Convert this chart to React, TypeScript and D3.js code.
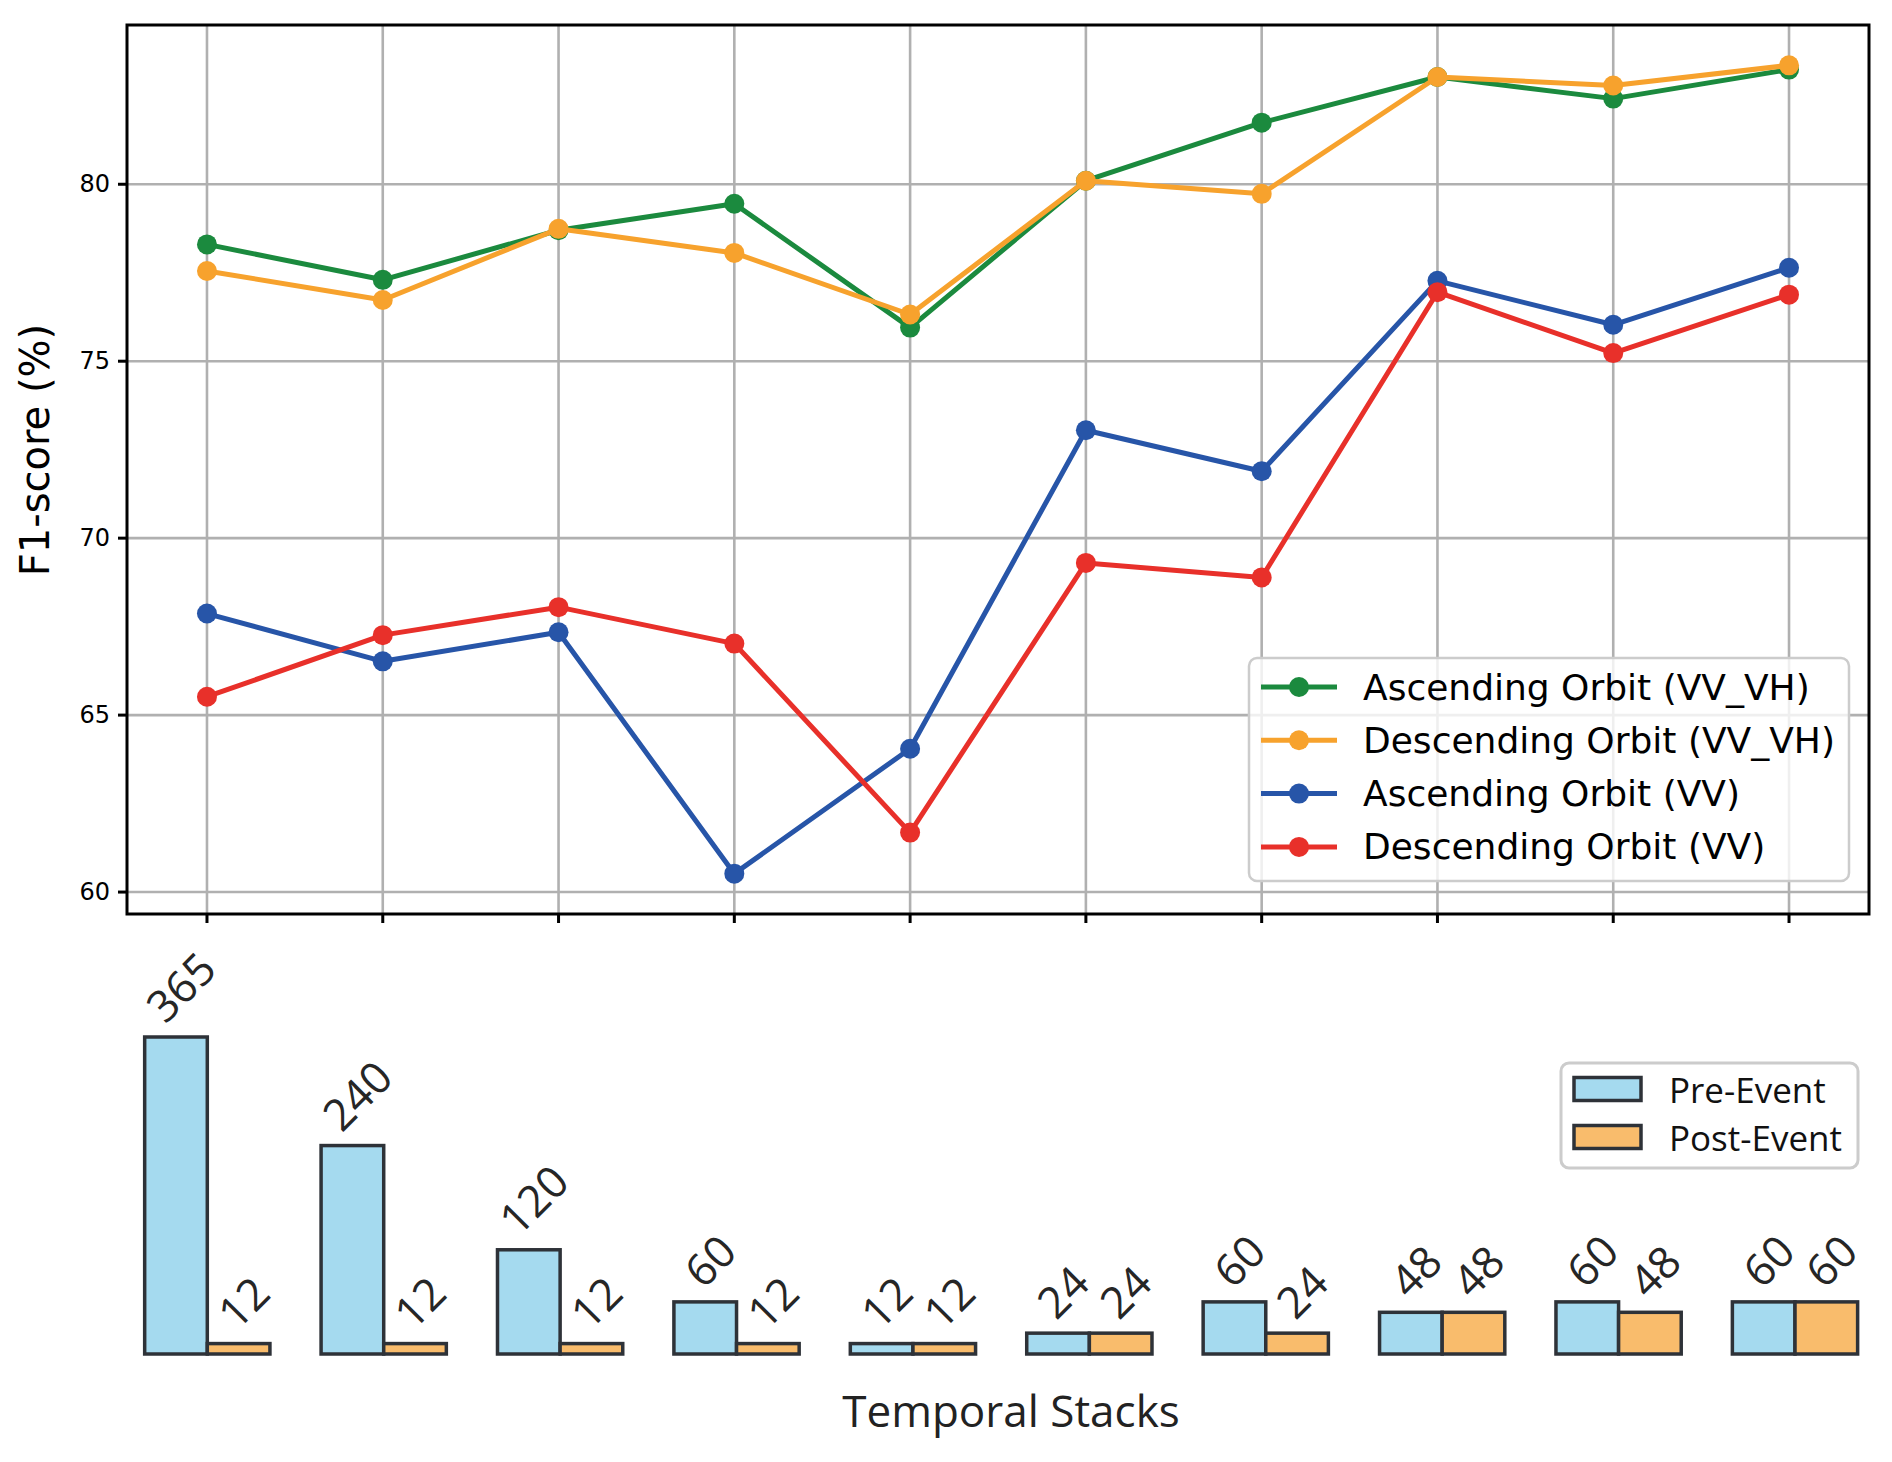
import { useEffect, useRef } from 'react'
import * as d3 from 'd3'

// x positions (10 temporal stacks)
const stackIndex = [0, 1, 2, 3, 4, 5, 6, 7, 8, 9]

const ascVVVH = [78.3, 77.3, 78.7, 79.45, 75.95, 80.1, 81.74, 83.03, 82.42, 83.24]
const descVVVH = [77.55, 76.73, 78.74, 78.06, 76.32, 80.1, 79.73, 83.03, 82.79, 83.36]
const ascVV = [67.87, 66.52, 67.34, 60.52, 64.05, 73.05, 71.89, 77.27, 76.03, 77.64]
const descVV = [65.52, 67.26, 68.05, 67.02, 61.68, 69.3, 68.89, 76.95, 75.23, 76.88]

const preEvent = [365, 240, 120, 60, 12, 24, 60, 48, 60, 60]
const postEvent = [12, 12, 12, 12, 12, 24, 24, 48, 48, 60]

const yTicks = [60, 65, 70, 75, 80]

const seriesNames = [
  'Ascending Orbit (VV_VH)',
  'Descending Orbit (VV_VH)',
  'Ascending Orbit (VV)',
  'Descending Orbit (VV)',
]
const seriesColors = ['#1b8a3e', '#f7a22d', '#2755a8', '#e8302a']

const barNames = ['Pre-Event', 'Post-Event']
const barColors = ['#a5daef', '#f9bc6c']

const W = 1892
const H = 1462

const App = () => {
  const svgRef = useRef<SVGSVGElement>(null)

  useEffect(() => {
    if (!svgRef.current) return
    const svg = d3.select(svgRef.current)
    svg.selectAll('*').remove()

    const sans = 'DejaVu Sans, sans-serif'
    const open = 'Open Sans, sans-serif'

    // ---- top panel: F1 lines ----
    const plot = { left: 127, right: 1869, top: 25, bottom: 914 }
    const x = d3.scaleLinear().domain([-0.455, 9.455]).range([plot.left, plot.right])
    const y = d3.scaleLinear().domain([59.38, 84.5]).range([plot.bottom, plot.top])

    const top = svg.append('g')

    // grid
    top
      .selectAll('.vgrid')
      .data(stackIndex)
      .enter()
      .append('line')
      .attr('x1', (d) => x(d))
      .attr('x2', (d) => x(d))
      .attr('y1', plot.top)
      .attr('y2', plot.bottom)
      .attr('stroke', '#b0b0b0')
      .attr('stroke-width', 2.6)
    top
      .selectAll('.hgrid')
      .data(yTicks)
      .enter()
      .append('line')
      .attr('x1', plot.left)
      .attr('x2', plot.right)
      .attr('y1', (d) => y(d))
      .attr('y2', (d) => y(d))
      .attr('stroke', '#b0b0b0')
      .attr('stroke-width', 2.6)

    // lines + markers
    const allSeries = [ascVVVH, descVVVH, ascVV, descVV]
    const line = d3
      .line<number>()
      .x((_, i) => x(stackIndex[i]))
      .y((d) => y(d))

    allSeries.forEach((vals, s) => {
      top
        .append('path')
        .attr('d', line(vals)!)
        .attr('fill', 'none')
        .attr('stroke', seriesColors[s])
        .attr('stroke-width', 5)
        .attr('stroke-linejoin', 'round')
      top
        .selectAll(`.pt${s}`)
        .data(vals)
        .enter()
        .append('circle')
        .attr('cx', (_, i) => x(stackIndex[i]))
        .attr('cy', (d) => y(d))
        .attr('r', 10)
        .attr('fill', seriesColors[s])
    })

    // frame
    top
      .append('rect')
      .attr('x', plot.left)
      .attr('y', plot.top)
      .attr('width', plot.right - plot.left)
      .attr('height', plot.bottom - plot.top)
      .attr('fill', 'none')
      .attr('stroke', '#000')
      .attr('stroke-width', 3)

    // y ticks
    yTicks.forEach((t) => {
      top
        .append('line')
        .attr('x1', plot.left - 9)
        .attr('x2', plot.left)
        .attr('y1', y(t))
        .attr('y2', y(t))
        .attr('stroke', '#000')
        .attr('stroke-width', 3)
      top
        .append('text')
        .attr('x', plot.left - 17)
        .attr('y', y(t))
        .attr('text-anchor', 'end')
        .attr('dominant-baseline', 'central')
        .style('font-family', sans)
        .style('font-size', '24px')
        .text(t)
    })
    // x ticks (no labels)
    stackIndex.forEach((i) => {
      top
        .append('line')
        .attr('x1', x(i))
        .attr('x2', x(i))
        .attr('y1', plot.bottom)
        .attr('y2', plot.bottom + 9)
        .attr('stroke', '#000')
        .attr('stroke-width', 3)
    })

    // y label
    top
      .append('text')
      .attr('transform', `translate(49,450) rotate(-90)`)
      .attr('text-anchor', 'middle')
      .style('font-family', sans)
      .style('font-size', '40px')
      .text('F1-score (%)')

    // legend
    const lg = top.append('g')
    lg.append('rect')
      .attr('x', 1249)
      .attr('y', 658)
      .attr('width', 600)
      .attr('height', 223)
      .attr('rx', 8)
      .attr('fill', 'white')
      .attr('fill-opacity', 0.8)
      .attr('stroke', '#cccccc')
      .attr('stroke-width', 2.5)
    seriesNames.forEach((name, i) => {
      const ry = 687 + i * 53.3
      lg.append('line')
        .attr('x1', 1261)
        .attr('x2', 1337)
        .attr('y1', ry)
        .attr('y2', ry)
        .attr('stroke', seriesColors[i])
        .attr('stroke-width', 5)
      lg.append('circle').attr('cx', 1299).attr('cy', ry).attr('r', 10).attr('fill', seriesColors[i])
      lg.append('text')
        .attr('x', 1363)
        .attr('y', ry)
        .attr('dominant-baseline', 'central')
        .style('font-family', sans)
        .style('font-size', '36px')
        .text(name)
    })

    // ---- bottom panel: temporal stack bars ----
    const bx = d3.scaleLinear().domain([0, 9]).range([207.3, 1795])
    const by = d3.scaleLinear().domain([0, 365]).range([1354, 1037])
    const barW = bx(0.355) - bx(0)
    const bottom = svg.append('g')

    const labelSize = 44
    const drawBars = (vals: number[], k: number) => {
      vals.forEach((v, i) => {
        const x0 = k === 0 ? bx(i) - barW : bx(i)
        bottom
          .append('rect')
          .attr('x', x0)
          .attr('y', by(v))
          .attr('width', barW)
          .attr('height', by(0) - by(v))
          .attr('fill', barColors[k])
          .attr('stroke', '#2e3238')
          .attr('stroke-width', 3.5)
      })
    }
    drawBars(preEvent, 0)
    drawBars(postEvent, 1)

    const drawLabels = (vals: number[], k: number) => {
      vals.forEach((v, i) => {
        const cx = (k === 0 ? bx(i) - barW / 2 : bx(i) + barW / 2) + 5
        const str = String(v)
        const tw = str.length * 0.572 * labelSize
        const th = 0.714 * labelSize
        const ax = cx - (0.7071 * (tw - th)) / 2
        const ay = by(v) - 12
        bottom
          .append('text')
          .attr('transform', `translate(${ax},${ay}) rotate(-45)`)
          .style('font-family', open)
          .style('font-size', `${labelSize}px`)
          .style('fill', '#262626')
          .text(str)
      })
    }
    drawLabels(preEvent, 0)
    drawLabels(postEvent, 1)

    // x label
    bottom
      .append('text')
      .attr('x', 1011)
      .attr('y', 1427)
      .attr('text-anchor', 'middle')
      .style('font-family', open)
      .style('font-size', '44px')
      .style('fill', '#222')
      .text('Temporal Stacks')

    // bar legend
    const bl = bottom.append('g')
    bl.append('rect')
      .attr('x', 1561)
      .attr('y', 1063)
      .attr('width', 297)
      .attr('height', 105)
      .attr('rx', 8)
      .attr('fill', 'white')
      .attr('stroke', '#cccccc')
      .attr('stroke-width', 3)
    barNames.forEach((name, i) => {
      const ry = 1089 + i * 48
      bl.append('rect')
        .attr('x', 1574)
        .attr('y', ry - 11.5)
        .attr('width', 67)
        .attr('height', 23)
        .attr('fill', barColors[i])
        .attr('stroke', '#2e3238')
        .attr('stroke-width', 3.5)
      bl.append('text')
        .attr('x', 1669)
        .attr('y', ry)
        .attr('dominant-baseline', 'central')
        .style('font-family', open)
        .style('font-size', '35px')
        .style('fill', '#111')
        .text(name)
    })
  }, [])

  return (
    <svg
      ref={svgRef}
      width={W}
      height={H}
      style={{ position: 'absolute', left: 0, top: 0, background: 'white' }}
    />
  )
}

export default App
